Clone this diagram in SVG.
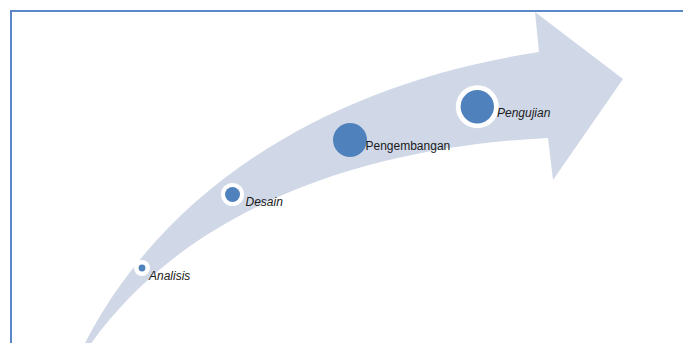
<svg xmlns="http://www.w3.org/2000/svg" width="683" height="343" viewBox="0 0 683 343">
  <style>
    .band { fill: #d0d8e8; }
    .ring { fill: #ffffff; }
    .dot { fill: #4f81bd; }
    .label { font-family: "Liberation Sans", Arial, sans-serif; font-size: 12px; fill: #1a1a1a; }
    .it { font-style: italic; }
    .frame { fill: none; stroke: #5b87c7; stroke-width: 2; }
  </style>
  <rect width="683" height="343" fill="#ffffff"/>

  <!-- curved progress arrow -->
  <g id="connectors">
    <path class="band" d="M84,345 C160,195 320,85 539,52 L535,12 L623,79 L553,180 L548,138 C400,145 200,190 90,345 L86,352 Z"/>
  </g>

  <g id="analisis">
    <circle class="ring" cx="142" cy="268" r="8"/>
    <circle class="dot" cx="142" cy="268" r="3.4"/>
    <text class="label it" x="149" y="280">Analisis</text>
  </g>

  <g id="desain">
    <circle class="ring" cx="232.5" cy="194.5" r="11.5"/>
    <circle class="dot" cx="232.5" cy="194.5" r="7.5"/>
    <text class="label it" x="245.5" y="206">Desain</text>
  </g>

  <g id="pengembangan">
    <circle class="dot" cx="350" cy="140" r="17"/>
    <text class="label" x="365.5" y="150">Pengembangan</text>
  </g>

  <g id="pengujian">
    <circle class="ring" cx="477.3" cy="106.7" r="21.5"/>
    <circle class="dot" cx="477.3" cy="106.7" r="16.7"/>
    <text class="label it" x="497" y="117">Pengujian</text>
  </g>

  <!-- page frame -->
  <path class="frame" d="M11,343 V11 H683"/>
</svg>
